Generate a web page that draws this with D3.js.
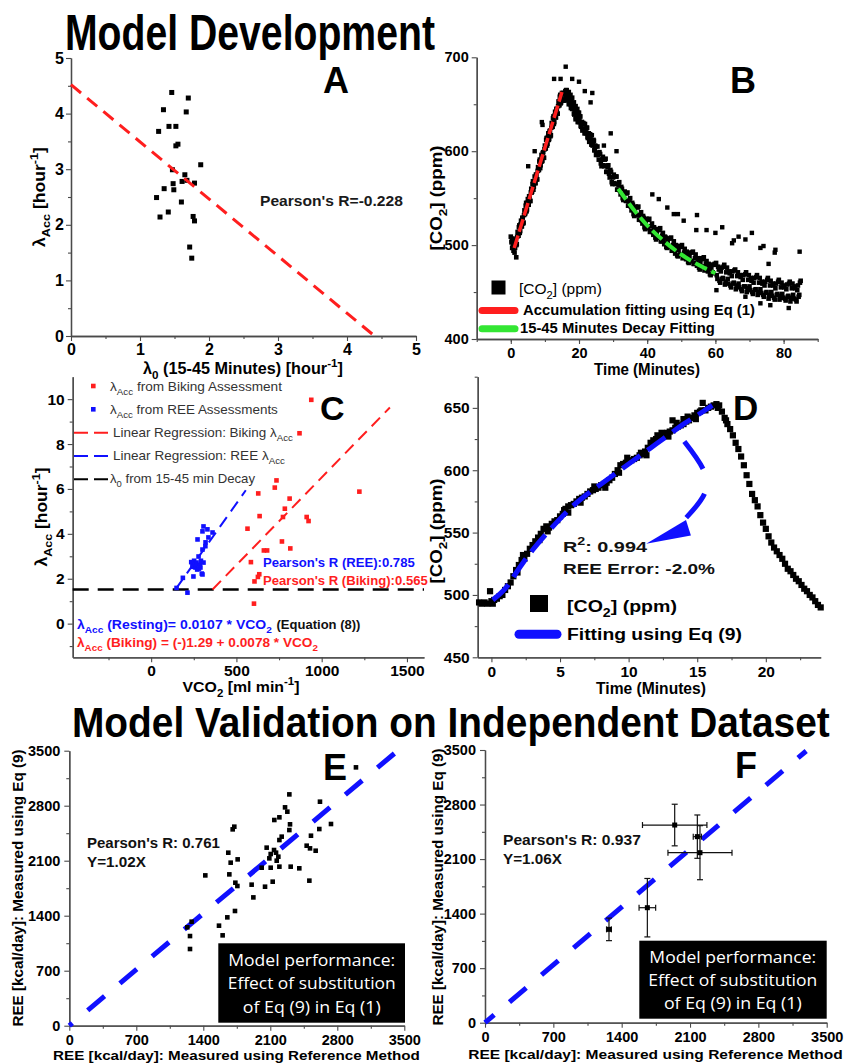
<!DOCTYPE html>
<html><head><meta charset="utf-8">
<script src="https://cdn.jsdelivr.net/npm/d3@7"></script>
<style>body{margin:0;background:#fff}svg{display:block}</style>
</head><body><svg id="c" width="844" height="1064"></svg>
<script>
// ---------------- DATA ----------------
// Panel A
const aLambda0 = [1.46,1.70,1.34,1.67,1.27,1.42,1.52,1.52,1.55,1.88,1.47,1.65,1.48,1.35,1.49,1.61,1.68,1.79,1.24,1.60,1.41,1.29,1.77,1.79,1.72,1.75];
const aLambdaAcc = [4.38,4.28,4.07,4.03,3.68,3.77,3.77,3.42,3.45,3.08,2.99,2.90,2.74,2.65,2.63,2.78,2.80,2.75,2.49,2.41,2.23,2.14,2.15,2.07,1.60,1.40];
const aFit = [[0,4.52],[4.4,0]];
const aPearson = "Pearson's R=-0.228";

// Panel B  [time (min), CO2 (ppm)]
const bCO2 = [
[0.0,509],[0.2,503],[0.3,505],[0.4,497],[0.5,507],[0.6,500],[0.8,494],[0.9,502],[1.1,492],[1.6,487],
[1.0,503],[1.25,497],[1.5,506],[1.75,501],[2.0,514],[2.25,510],[2.5,521],[2.75,515],[3.0,526],[3.25,520],
[3.5,529],[3.75,524],[4.0,537],[4.25,534],[4.5,545],[4.75,538],[5.0,549],[5.25,543],[5.5,552],[5.75,547],
[6.0,560],[6.25,557],[6.5,568],[6.75,562],[7.0,573],[7.25,566],[7.5,575],[7.75,570],[8.0,583],[8.25,580],
[8.5,591],[8.75,585],[9.0,596],[9.25,590],[9.5,599],[9.75,593],[10.0,606],[10.25,603],[10.5,614],[10.75,608],
[11.0,619],[11.25,613],[11.5,622],[11.75,617],[12.0,630],[12.25,626],[12.5,637],[12.75,631],[13.0,642],[13.25,636],
[13.5,645],[13.75,640],[14.0,653],[14.25,649],[14.5,660],[14.75,652],[15.0,662],[15.25,654],[15.5,661],[15.75,654],[16.0,664],
[16.25,665],[16.5,655],[16.75,660],[17,650],[17.25,658],[17.5,650],[17.75,656],[18,645],[18.25,651],[18.5,640],
[18.75,644],[19,634],[19.25,642],[19.5,635],[19.75,641],[20,631],[20.25,637],[20.5,627],[20.75,631],[21,622],
[21.25,630],[21.5,623],[21.75,629],[22,619],[22.25,625],[22.5,615],[22.75,619],[23,610],[23.25,618],[23.5,610],
[23.75,617],[24,606],[24.25,612],[24.5,601],[24.75,606],[25,596],
[17.0,663],[17.5,660],[18.0,657],[18.5,652],[19.0,648],[19.5,645],[20.0,641],
[25.4,605],[25.8,591],[26.2,597],[26.6,584],[27.0,594],[27.4,584],[27.8,592],[28.2,578],[28.6,585],[29.0,572],
[29.4,578],[29.8,565],[30.2,575],[30.6,565],[31.0,573],[31.4,559],[31.8,567],[32.2,554],[32.6,560],[33.0,548],
[33.4,557],[33.8,547],[34.2,556],[34.6,542],[35.0,550],[35.4,537],[35.8,543],[36.2,531],[36.6,541],[37.0,532],
[37.4,541],[37.8,527],[38.2,535],[38.6,523],[39.0,529],[39.4,517],[39.8,528],[40.2,518],[40.6,528],[41.0,515],
[41.4,523],[41.8,511],[42.2,517],[42.6,506],[43.0,517],[43.4,508],[43.8,518],[44.2,504],[44.6,513],[45.0,501],
[45.4,508],[45.8,497],[46.2,507],[46.6,498],[47.0,508],[47.4,495],[47.8,504],[48.2,491],[48.6,499],[49.0,488],
[49.4,499],[49.8,490],[50.2,500],[50.6,487],[51.0,496],[51.4,485],[51.8,491],[52.2,481],[52.6,492],[53.0,483],
[53.4,493],[53.8,480],[54.2,490],[54.6,478],[55.0,485],[55.4,474],[55.8,486],[56.2,477],[56.6,487],[57.0,474],
[57.4,483],[57.8,472],[58.2,479],[58.6,468],[59.0,479],[59.4,470],[59.8,480],
[60.2,481],[60.6,464],[61.0,474],[61.4,460],[61.8,476],[62.2,465],[62.6,479],[63.0,461],[63.4,476],[63.8,459],
[64.2,470],[64.6,455],[65.0,472],[65.4,460],[65.8,474],[66.2,457],[66.6,471],[67.0,455],[67.4,466],[67.8,451],
[68.2,468],[68.6,456],[69.0,471],[69.4,454],[69.8,468],[70.2,452],[70.6,462],[71.0,448],[71.4,465],[71.8,453],
[72.2,468],[72.6,450],[73.0,465],[73.4,449],[73.8,459],[74.2,445],[74.6,461],[75.0,450],[75.4,465],[75.8,447],
[76.2,462],[76.6,446],[77.0,457],[77.4,442],[77.8,459],[78.2,448],[78.6,463],[79.0,446],[79.4,460],[79.8,444],
[80.2,455],[80.6,441],[81.0,458],[81.4,446],[81.8,461],[82.2,444],[82.6,459],[83.0,443],[83.4,454],[83.8,440],
[84.2,457],[84.6,447],[85.0,462]
];
// second (interleaved) sampling of the same B recording
const bCO2b = [
[1.125,497],[1.375,505],[1.625,500],[1.875,509],[2.125,510],[2.375,519],[2.625,513],[2.875,522],[3.125,520],[3.375,529],
[3.625,523],[3.875,532],[4.125,533],[4.375,542],[4.625,536],[4.875,545],[5.125,543],[5.375,552],[5.625,547],[5.875,556],
[6.125,556],[6.375,565],[6.625,559],[6.875,568],[7.125,566],[7.375,575],[7.625,570],[7.875,579],[8.125,580],[8.375,589],
[8.625,582],[8.875,591],[9.125,589],[9.375,598],[9.625,593],[9.875,602],[10.125,603],[10.375,612],[10.625,606],[10.875,615],
[11.125,612],[11.375,621],[11.625,616],[11.875,625],[12.125,626],[12.375,635],[12.625,629],[12.875,638],[13.125,636],[13.375,645],
[13.625,640],[13.875,648],[14.125,649],[14.375,658],[14.625,651],[14.875,658],[15.125,655],[15.375,662],[15.625,654],[15.875,661],
[16.125,659],[16.375,665],[16.625,655],[16.875,659],[17.125,652],[17.375,656],[17.625,646],[17.875,650],[18.125,646],[18.375,650],
[18.625,639],[18.875,643],[19.125,636],[19.375,641],[19.625,631],[19.875,636],[20.125,632],[20.375,637],[20.625,626],[20.875,631],
[21.125,624],[21.375,629],[21.625,619],[21.875,624],[22.125,620],[22.375,625],[22.625,614],[22.875,619],[23.125,612],[23.375,616],
[23.625,607],[23.875,611],[24.125,607],[24.375,611],[24.625,601],[24.875,605],[25.125,598],
[25.6,596],[26.0,599],[26.4,587],[26.8,591],[27.2,585],[27.6,591],[28.0,578],[28.4,583],[28.8,576],[29.2,580],
[29.6,567],[30.0,572],[30.4,566],[30.8,573],[31.2,559],[31.6,564],[32.0,558],[32.4,562],[32.8,550],[33.2,554],
[33.6,548],[34.0,555],[34.4,542],[34.8,547],[35.2,541],[35.6,545],[36.0,533],[36.4,538],[36.8,532],[37.2,540],
[37.6,527],[38.0,532],[38.4,526],[38.8,531],[39.2,519],[39.6,525],[40.0,519],[40.4,527],[40.8,514],[41.2,520],
[41.6,514],[42.0,519],[42.4,508],[42.8,514],[43.2,508],[43.6,516],[44.0,504],[44.4,510],[44.8,505],[45.2,509],
[45.6,498],[46.0,504],[46.4,499],[46.8,507],[47.2,494],[47.6,500],[48.0,495],[48.4,500],[48.8,489],[49.2,495],
[49.6,490],[50.0,498],[50.4,486],[50.8,492],[51.2,488],[51.6,493],[52.0,482],[52.4,488],[52.8,483],[53.2,492],
[53.6,480],[54.0,486],[54.4,481],[54.8,486],[55.2,476],[55.6,482],[56.0,477],[56.4,485],[56.8,473],[57.2,480],
[57.6,475],[58.0,480],[58.4,469],[58.8,475],[59.2,471],[59.6,479],
[60.4,468],[60.8,477],[61.2,462],[61.6,472],[62.0,464],[62.4,477],[62.8,458],[63.2,471],[63.6,464],[64.0,472],
[64.4,457],[64.8,467],[65.2,459],[65.6,473],[66.0,453],[66.4,467],[66.8,459],[67.2,468],[67.6,453],[68.0,463],
[68.4,456],[68.8,469],[69.2,450],[69.6,463],[70.0,456],[70.4,465],[70.8,450],[71.2,460],[71.6,452],[72.0,466],
[72.4,447],[72.8,460],[73.2,453],[73.6,461],[74.0,447],[74.4,457],[74.8,449],[75.2,463],[75.6,443],[76.0,457],
[76.4,450],[76.8,459],[77.2,444],[77.6,454],[78.0,447],[78.4,461],[78.8,442],[79.2,455],[79.6,448],[80.0,457],
[80.4,443],[80.8,453],[81.2,445],[81.6,459],[82.0,440],[82.4,454],[82.8,447],[83.2,456],[83.6,442],[84.0,452],
[84.4,445],[84.8,460]
];
const bOutliers = [
[16.1,690],[12.7,677],[14.6,677],[18,677],[20,674],[21.7,664],[23.9,662],[23.4,652],[9.1,631],[9.3,628],
[5.1,584],[7,600],[29.3,619],[27.3,606],[31,600],[41.5,554],[43.4,549],[45.9,540],[47.8,533],[49,533],
[50.7,526],[54.6,532],[54.4,516],[57.4,516],[60,513],[62,519],[64.9,502],[65.4,505],[66.8,509],[68.8,506],
[70.7,513],[73.2,497],[74.1,499],[75.6,480],[77.4,492],[77.6,495],[84.7,493],[60.3,452],[68.8,445],[73.2,438],
[76.1,436],[81.5,433]
];
const bAccFit = [[1,497],[15,663]];
const bDecayFit = [[31.5,560],[36,538],[40,521],[45,504],[50,490],[55,479],[60,470]];
const bLegend = ["[CO_{2}] (ppm)","Accumulation fitting using Eq (1)","15-45 Minutes Decay Fitting"];

// Panel C
const cBikeVCO2 = [939,870,735,725,628,812,784,773,636,912,923,565,767,816,661,680,585,634,626,606,603,1221];
const cBikeLam  = [9.97,8.48,6.38,6.06,5.80,5.57,5.12,4.75,4.79,4.75,4.57,4.23,3.66,3.35,3.26,3.26,2.74,2.20,2.08,1.88,0.89,5.88];
const cReeVCO2 = [149,186,213,242,248,235,246,252,260,262,266,272,270,278,280,285,289,292,297,301,301,307,301,307,319,318,330,336,360];
const cReeLam  = [1.59,2.04,1.38,2.59,2.10,2.74,2.53,2.80,2.50,2.65,2.72,3.75,2.41,2.99,2.45,2.62,2.50,2.80,2.23,2.19,3.30,2.72,4.11,4.33,3.62,3.45,4.20,3.84,4.06];
const cBikeFit = [[360,1.52],[1400,9.63]];
const cReeFit = [[145,1.55],[555,5.94]];
const cLambda0 = 1.52;
const cLegend = ["λ_{Acc} from Biking Assessment","λ_{Acc} from REE Assessments","Linear Regression: Biking λ_{Acc}","Linear Regression: REE λ_{Acc}","λ_{0} from 15-45 min Decay"];

// Panel D [time (min), CO2 (ppm)]
const dCO2 = [
[-0.9,494],[-0.7,493],[-0.5,494],[-0.3,493],[-0.1,503],[0.0,495],[0.2,496],[0.4,497],[0.6,499],[0.8,500],
[1.0,504],[1.2,507],[1.4,510],[1.6,515],[1.8,520],[2.0,524],[2.2,528],[2.4,529],[2.6,533],[2.8,537],
[3.0,540],[3.2,543],[3.4,546],[3.6,549],[3.8,553],[4.0,555],[4.2,554],[4.4,557],[4.6,559],[4.8,560],
[5.0,563],[5.2,565],[5.4,569],[5.6,571],[5.8,572],[6.0,573],[6.2,575],[6.4,577],[6.6,578],[6.8,579],
[7.0,581],[7.2,583],[7.4,584],[7.6,585],[7.8,586],[8.0,588],[8.2,589],[8.4,590],[8.6,592],[8.8,594],
[9.0,597],[9.2,600],[9.4,604],[9.6,605],[9.8,606],[10.0,607],[10.2,608],[10.4,609],[10.6,610],[10.8,612],
[11.0,613],[11.2,615],[11.4,618],[11.6,622],[11.8,624],[12.0,625],[12.2,625],[12.4,627],[12.6,628],[12.8,630],
[13.0,631],[13.2,632],[13.4,634],[13.6,635],[13.8,636],[14.0,637],[14.2,639],[14.4,640],[14.6,642],[14.8,644],
[15.0,646],[15.2,647],[15.4,654],[15.6,648],[15.8,650],[16.0,651],[16.2,652],[16.4,653],[16.6,652],[16.8,647],
[17.0,642],[17.2,637],[17.4,633],[17.6,628],[17.8,622],[18.0,617],[18.2,611],[18.4,604],[18.6,596],[18.8,589],
[19.0,581],[19.2,576],[19.4,571],[19.6,564],[19.8,558],[20.0,553],[20.2,547],[20.4,542],[20.6,538],[20.8,535],
[21.0,532],[21.2,529],[21.4,525],[21.6,521],[21.8,519],[22.0,516],[22.2,513],[22.4,511],[22.6,508],[22.8,505],
[23.0,503],[23.2,500],[23.4,498],[23.6,495],[23.8,492],[24.0,490],
[0.1,493],[1.9,518],[2.3,532],[3.5,544],[4.1,551],[5.3,568],[5.6,566],[6.5,574],[7.5,587],[8.3,586],
[9.3,598],[9.9,610],[10.9,614],[11.3,612],[12.1,628],[12.4,630],[12.9,627],[13.2,640],[13.5,638],[14.0,641],
[14.3,643],[14.9,641],[15.3,648],[16.5,650],[17.1,640]
];
const dFit = [[0.1,496],[1,505],[2,521],[3,536],[4,549],[5,561],[6,572],[7,581],[8,589],[9,597],[10,605],[11,613],[12,621],[13,629],[14,637],[15,644],[16.1,652]];
const dArrowArc = [[14.06,623],[15.7,590],[14.2,562]];
const dArrowHead = [[11.28,541],[14.18,560],[14.54,547.6]];
const dNotes = ["R^{2}: 0.994","REE Error: -2.0%"];
const dLegend = ["[CO_{2}] (ppm)","Fitting using Eq (9)"];

// Panel E
const eRef = [2299,2619,2254,2278,2142,2195,2306,2299,2612,2734,1724,1707,2219,2525,2195,2480,2515,2574,1661,2062,2139,2104,2160,2184,2090,2167,1759,1686,2010,2104,2195,2313,2403,1421,1672,1735,1756,1905,2125,2045,2508,1923,1731,1651,1564,1602,1233,1278,1261,1261,2995];
const eEq9 = [2944,2851,2779,2724,2618,2652,2563,2490,2503,2567,2533,2499,2406,2418,2363,2291,2257,2227,2202,2266,2236,2185,2202,2151,2130,2100,2117,2075,2011,2011,2024,2024,2003,1913,1926,1820,1778,1795,1833,1769,1846,1633,1460,1379,1273,1150,1252,1324,1141,976,3288];
const eFit = [[0,0],[3400,3468]];
const eNotes = ["Pearson's R: 0.761","Y=1.02X"];

// Panel F
const fRef = [1270,1663,1943,2175,2202];
const fRefErr = [25,85,330,42,328];
const fEq9 = [1198,1476,2537,2388,2182];
const fEq9Err = [145,375,267,278,347];
const fFit = [[0,0],[3290,3487]];
const fNotes = ["Pearson's R: 0.937","Y=1.06X"];

const boxLines = ["Model performance:","Effect of substitution","of Eq (9) in Eq (1)"];
const titles = ["Model Development","Model Validation on Independent Dataset"];
const tickA = [0,1,2,3,4,5], tickB = [0,20,40,60,80], tickBy = [400,500,600,700];
const tickC = [0,500,1000,1500], tickCy = [0,2,4,6,8,10];
const tickD = [0,5,10,15,20], tickDy = [450,500,550,600,650];
const tickE = [0,700,1400,2100,2800,3500];

// ---------------- DRAW ----------------
const svg = d3.select('#c');
svg.append('rect').attr('width',844).attr('height',1064).attr('fill','#fff');
const FONT = '"Liberation Sans", Arial, Helvetica, sans-serif';
const BOXFONT = '"Open Sans", "Liberation Sans", sans-serif';
const AXIS = '#4a4a4a';
const RED = '#ff1e1e', BLUE = '#1010ff', GREEN = '#33e633';

function rich(sel, str, fs) {
  sel.selectAll('tspan').remove();
  const parts = str.split(/(_\{[^}]*\}|\^\{[^}]*\})/).filter(s => s.length);
  let cur = 0;
  parts.forEach(p => {
    let t = p, off = 0, size = null;
    if (p.startsWith('_{')) { t = p.slice(2,-1); off = 0.3*fs; size = 0.72*fs; }
    else if (p.startsWith('^{')) { t = p.slice(2,-1); off = -0.42*fs; size = 0.72*fs; }
    const ts = sel.append('tspan').text(t);
    if (off - cur !== 0) ts.attr('dy', off - cur);
    if (size) ts.attr('font-size', size);
    cur = off;
  });
  return sel;
}
// text fitted to a measured width: font size adjusted so the run is that wide,
// and a vertical scale keeps the cap height of fs
function label(o) {
  const t = svg.append('text')
    .attr('font-family', o.family || FONT).attr('font-size', o.fs)
    .attr('font-weight', o.weight || 'bold').attr('fill', o.fill || '#000')
    .attr('text-anchor', o.anchor || 'start');
  rich(t, o.text, o.fs);
  let sy = 1;
  if (o.width) {
    const len = t.node().getComputedTextLength();
    const nfs = o.fs * o.width / len;
    t.attr('font-size', nfs);
    rich(t, o.text, nfs);
    sy = o.fs / nfs;
  }
  t.attr('transform', `translate(${o.x},${o.y})${o.rotate ? ' rotate(-90)' : ''} scale(1,${sy})`);
  return t;
}
function drawAxes(x, y, o) {
  const g = svg.append('g');
  const y0 = y.range()[0], x0 = x.range()[0];
  const style = sel => {
    sel.select('.domain').attr('stroke', AXIS).attr('stroke-width', 1.3);
    sel.selectAll('.tick line').attr('stroke', AXIS).attr('stroke-width', 1.1);
    sel.selectAll('text').attr('font-family', FONT).attr('font-size', o.fs)
      .attr('font-weight', 'bold').attr('fill', '#000');
  };
  const fmt = d3.format('d');
  g.append('g').attr('transform', `translate(0,${y0})`)
    .call(d3.axisBottom(x).tickValues(o.xMinor).tickSize(3).tickFormat(() => '').tickSizeOuter(0)).call(style);
  g.append('g').attr('transform', `translate(0,${y0})`)
    .call(d3.axisBottom(x).tickValues(o.xMajor).tickSize(5).tickPadding(o.xPad).tickFormat(fmt).tickSizeOuter(0)).call(style);
  g.append('g').attr('transform', `translate(${x0},0)`)
    .call(d3.axisLeft(y).tickValues(o.yMinor).tickSize(3).tickFormat(() => '').tickSizeOuter(0)).call(style);
  g.append('g').attr('transform', `translate(${x0},0)`)
    .call(d3.axisLeft(y).tickValues(o.yMajor).tickSize(5).tickPadding(o.yPad).tickFormat(fmt).tickSizeOuter(0)).call(style);
}
function squares(data, x, y, s, fill) {
  svg.append('g').selectAll('rect').data(data).join('rect')
    .attr('x', d => x(d[0]) - s/2).attr('y', d => y(d[1]) - s/2)
    .attr('width', s).attr('height', s).attr('fill', fill);
}
function line(data, x, y, stroke, w, dash, curve, off) {
  const gen = d3.line().x(d => x(d[0])).y(d => y(d[1]));
  if (curve) gen.curve(curve);
  return svg.append('path').datum(data).attr('d', gen).attr('fill', 'none')
    .attr('stroke', stroke).attr('stroke-width', w).attr('stroke-dasharray', dash)
    .attr('stroke-dashoffset', off || 0);
}
const minors = (a, b, s) => d3.range(a, b + s/2, s);

// Titles
label({x: 65, y: 50, text: titles[0], fs: 50, width: 370});
label({x: 72, y: 737, text: titles[1], fs: 43, width: 758});

// ---- Panel A ----
{
  const x = d3.scaleLinear([0,5],[71,416]), y = d3.scaleLinear([0,5],[336,58]);
  drawAxes(x, y, {xMajor: tickA, xMinor: minors(0.5,4.5,1), yMajor: tickA, yMinor: minors(0.5,4.5,1), fs: 16, xPad: 3, yPad: 2});
  squares(aLambda0.map((v,i) => [v, aLambdaAcc[i]]), x, y, 5, '#000');
  line(aFit, x, y, RED, 3, '13,8');
  label({x: 260, y: 206, text: aPearson, fs: 15, width: 143, fill: '#1a1a1a'});
  label({x: 323, y: 93, text: 'A', fs: 36});
  label({x: 243, y: 374, text: 'λ_{0} (15-45 Minutes) [hour^{-1}]', fs: 16, anchor: 'middle', width: 200});
  label({x: 45, y: 197, text: 'λ_{Acc} [hour^{-1}]', fs: 16, anchor: 'middle', rotate: true, width: 100});
}
// ---- Panel B ----
{
  const x = d3.scaleLinear([-10,90],[476.7,817.7]), y = d3.scaleLinear([400,700],[339,57.3]);
  drawAxes(x, y, {xMajor: tickB, xMinor: minors(-10,90,10), yMajor: tickBy, yMinor: [450,550,650], fs: 14.5, xPad: 4, yPad: 3});
  squares(bCO2, x, y, 4.6, '#000');
  squares(bCO2b, x, y, 4.6, '#000');
  squares(bOutliers, x, y, 4.4, '#000');
  line(bAccFit, x, y, RED, 3.5, '13,4');
  line(bDecayFit, x, y, GREEN, 4, '13,5', d3.curveMonotoneX);
  label({x: 730, y: 93, text: 'B', fs: 36});
  // legend
  svg.append('rect').attr('x', 491.5).attr('y', 280.5).attr('width', 14).attr('height', 14).attr('fill', '#000');
  label({x: 519, y: 294, text: bLegend[0], fs: 15, weight: 'normal', width: 83});
  svg.append('line').attr('x1', 482).attr('x2', 515).attr('y1', 310.5).attr('y2', 310.5)
    .attr('stroke', RED).attr('stroke-width', 7).attr('stroke-linecap', 'round');
  label({x: 523, y: 315, text: bLegend[1], fs: 14, width: 232});
  svg.append('line').attr('x1', 482).attr('x2', 515).attr('y1', 328.8).attr('y2', 328.8)
    .attr('stroke', GREEN).attr('stroke-width', 7).attr('stroke-linecap', 'round');
  label({x: 520, y: 333, text: bLegend[2], fs: 14, width: 195});
  label({x: 647, y: 375, text: 'Time (Minutes)', fs: 16, anchor: 'middle', width: 106});
  label({x: 442, y: 198, text: '[CO_{2}] (ppm)', fs: 16, anchor: 'middle', rotate: true, width: 105});
}
// ---- Panel C ----
{
  const x = d3.scaleLinear([-460,1600],[72.7,424]), y = d3.scaleLinear([-1.5,11],[657.3,376.7]);
  drawAxes(x, y, {xMajor: tickC, xMinor: [-250,250,750,1250], yMajor: tickCy, yMinor: [-1,1,3,5,7,9], fs: 15.5, xPad: 3, yPad: 3});
  line([[-460,cLambda0],[1600,cLambda0]], x, y, '#000', 2.5, '16,9');
  squares(cBikeVCO2.map((v,i) => [v, cBikeLam[i]]), x, y, 4.6, RED);
  squares(cReeVCO2.map((v,i) => [v, cReeLam[i]]), x, y, 4.6, BLUE);
  line(cBikeFit, x, y, RED, 2, '12,7');
  line(cReeFit, x, y, BLUE, 2, '12,7');
  // legend
  svg.append('rect').attr('x', 91).attr('y', 383.7).attr('width', 4.6).attr('height', 4.6).attr('fill', RED);
  svg.append('rect').attr('x', 91).attr('y', 407).attr('width', 4.6).attr('height', 4.6).attr('fill', BLUE);
  const legY = [390.7, 414, 436.7, 460, 483.3];
  const legW = [172, 168, 180, 172, 145];
  const legX = [110, 110, 113, 113, 110];
  [[RED, 432.7],[BLUE, 456],['#000', 479.3]].forEach(([c, yy]) => {
    svg.append('line').attr('x1', 74).attr('x2', 110).attr('y1', yy).attr('y2', yy)
      .attr('stroke', c).attr('stroke-width', 2).attr('stroke-dasharray', '14,6');
  });
  cLegend.forEach((t, i) => label({x: legX[i], y: legY[i], text: t, fs: 13, weight: 'normal', fill: '#333', width: legW[i]}));
  label({x: 320, y: 420, text: 'C', fs: 34});
  label({x: 263, y: 567, text: "Pearson's R (REE):0.785", fs: 12.5, fill: BLUE, width: 152});
  label({x: 263, y: 585, text: "Pearson's R (Biking):0.565", fs: 12.5, fill: RED, width: 165});
  label({x: 77, y: 629, text: 'λ_{Acc} (Resting)=  0.0107 * VCO_{2}', fs: 12.5, fill: BLUE, width: 195});
  label({x: 276.5, y: 629, text: '(Equation (8))', fs: 12.5, fill: '#111', width: 84});
  label({x: 77, y: 647, text: 'λ_{Acc} (Biking) = (-)1.29 + 0.0078 * VCO_{2}', fs: 12.5, fill: RED, width: 241});
  label({x: 241, y: 692, text: 'VCO_{2} [ml min^{-1}]', fs: 15.5, anchor: 'middle', width: 117});
  label({x: 47, y: 517, text: 'λ_{Acc} [hour^{-1}]', fs: 16, anchor: 'middle', rotate: true, width: 99});
}
// ---- Panel D ----
{
  const x = d3.scaleLinear([-1,24],[477.7,820.7]), y = d3.scaleLinear([450,675],[657.3,376.7]);
  drawAxes(x, y, {xMajor: tickD, xMinor: [2.5,7.5,12.5,17.5,22.5], yMajor: tickDy, yMinor: [475,525,575,625,675], fs: 15.5, xPad: 4, yPad: 3});
  squares(dCO2, x, y, 6.2, '#000');
  line(dFit, x, y, BLUE, 5, '22,9', d3.curveMonotoneX);
  line(dArrowArc, x, y, BLUE, 5, '33,26,60', d3.curveNatural);
  svg.append('path').datum(dArrowHead)
    .attr('d', d3.line().x(d => x(d[0])).y(d => y(d[1])).curve(d3.curveLinearClosed))
    .attr('fill', BLUE);
  label({x: 733, y: 420, text: 'D', fs: 35});
  label({x: 563, y: 552, text: dNotes[0], fs: 15.5, fill: '#111', width: 84});
  label({x: 563, y: 574, text: dNotes[1], fs: 15.5, fill: '#111', width: 152});
  svg.append('rect').attr('x', 530).attr('y', 595).attr('width', 18).attr('height', 17).attr('fill', '#000');
  label({x: 567, y: 612, text: dLegend[0], fs: 17, width: 110});
  svg.append('line').attr('x1', 519).attr('x2', 557).attr('y1', 634.3).attr('y2', 634.3)
    .attr('stroke', BLUE).attr('stroke-width', 9).attr('stroke-linecap', 'round');
  label({x: 567, y: 640, text: dLegend[1], fs: 17, width: 175});
  label({x: 651, y: 694, text: 'Time (Minutes)', fs: 16, anchor: 'middle', width: 110});
  label({x: 442, y: 531, text: '[CO_{2}] (ppm)', fs: 16, anchor: 'middle', rotate: true, width: 105});
}
// ---- Panel E ----
{
  const x = d3.scaleLinear([0,3500],[69.3,404.3]), y = d3.scaleLinear([0,3500],[1025.7,750.7]);
  drawAxes(x, y, {xMajor: tickE, xMinor: minors(350,3150,700), yMajor: tickE, yMinor: minors(350,3150,700), fs: 14.5, xPad: 4, yPad: 4});
  line(eFit, x, y, BLUE, 5, '22,20', null, 18);
  squares(eRef.map((v,i) => [v, eEq9[i]]), x, y, 4.6, '#000');
  label({x: 323, y: 780, text: 'E', fs: 36});
  label({x: 87, y: 848, text: eNotes[0], fs: 14, width: 133, fill: '#111'});
  label({x: 87, y: 866.5, text: eNotes[1], fs: 14, width: 59, fill: '#111'});
  svg.append('rect').attr('x', 218.3).attr('y', 943.3).attr('width', 186.7).attr('height', 79.4).attr('fill', '#000');
  const bw = [167, 168, 138], by = [966, 989, 1012.7];
  boxLines.forEach((t, i) => label({x: 311.7, y: by[i], text: t, fs: 17, weight: 'normal', family: BOXFONT, fill: '#fff', anchor: 'middle', width: bw[i]}));
  label({x: 236.5, y: 1060, text: 'REE [kcal/day]: Measured using Reference Method', fs: 13.5, anchor: 'middle', width: 367});
  label({x: 23, y: 888, text: 'REE [kcal/day]: Measured using Eq (9)', fs: 14, anchor: 'middle', rotate: true, width: 277});
}
// ---- Panel F ----
{
  const x = d3.scaleLinear([0,3500],[485,826.7]), y = d3.scaleLinear([0,3500],[1022.7,750]);
  drawAxes(x, y, {xMajor: tickE, xMinor: minors(350,3150,700), yMajor: tickE, yMinor: minors(350,3150,700), fs: 14.5, xPad: 4, yPad: 4});
  line(fFit, x, y, BLUE, 5, '22,20', null, 10);
  const eg = svg.append('g').attr('stroke', '#111').attr('stroke-width', 1.2);
  fRef.forEach((v, i) => {
    const cx = x(v), cy = y(fEq9[i]);
    const x1 = x(v - fRefErr[i]), x2 = x(v + fRefErr[i]);
    const y1 = y(fEq9[i] + fEq9Err[i]), y2 = y(fEq9[i] - fEq9Err[i]);
    eg.append('line').attr('x1', x1).attr('x2', x2).attr('y1', cy).attr('y2', cy);
    eg.append('line').attr('x1', x1).attr('x2', x1).attr('y1', cy - 3).attr('y2', cy + 3);
    eg.append('line').attr('x1', x2).attr('x2', x2).attr('y1', cy - 3).attr('y2', cy + 3);
    eg.append('line').attr('x1', cx).attr('x2', cx).attr('y1', y1).attr('y2', y2);
    eg.append('line').attr('x1', cx - 3).attr('x2', cx + 3).attr('y1', y1).attr('y2', y1);
    eg.append('line').attr('x1', cx - 3).attr('x2', cx + 3).attr('y1', y2).attr('y2', y2);
  });
  squares(fRef.map((v,i) => [v, fEq9[i]]), x, y, 5, '#000');
  label({x: 735, y: 778, text: 'F', fs: 36});
  label({x: 503, y: 845, text: fNotes[0], fs: 14, width: 138, fill: '#111'});
  label({x: 503, y: 864, text: fNotes[1], fs: 14, width: 59, fill: '#111'});
  svg.append('rect').attr('x', 639.3).attr('y', 940.7).attr('width', 187.4).attr('height', 78).attr('fill', '#000');
  const bw = [167, 169, 138], by = [962.7, 986, 1009.3];
  boxLines.forEach((t, i) => label({x: 732.8, y: by[i], text: t, fs: 17, weight: 'normal', family: BOXFONT, fill: '#fff', anchor: 'middle', width: bw[i]}));
  label({x: 655.5, y: 1059, text: 'REE [kcal/day]: Measured using Reference Method', fs: 13.5, anchor: 'middle', width: 375});
  label({x: 443, y: 887, text: 'REE [kcal/day]: Measured using Eq (9)', fs: 14, anchor: 'middle', rotate: true, width: 277});
}
</script></body></html>
